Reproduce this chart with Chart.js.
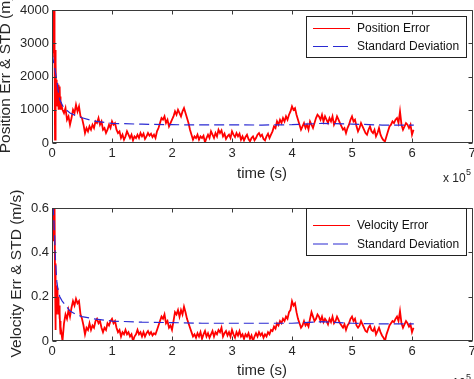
<!DOCTYPE html>
<html>
<head>
<meta charset="utf-8">
<script src="https://cdn.jsdelivr.net/npm/chart.js@4/dist/chart.umd.min.js"></script>
<style>
  html, body { margin: 0; padding: 0; background: #fff; overflow: hidden; }
  #wrap { position: relative; width: 474px; height: 379px; }
  canvas { position: absolute; left: 0; }
  #cA { top: 0; }
  #cB { top: 190px; }
</style>
</head>
<body>
<div id="wrap">
  <canvas id="cA" width="474" height="190"></canvas>
  <canvas id="cB" width="474" height="189"></canvas>
</div>
<script>
// ---------- DATA (time in units of 1e5 s) ----------
const errTime = [
  0,0.005,0.01,0.015,0.02,0.025,0.03,0.035,0.04,0.045,0.05,0.055,0.06,0.065,0.07,0.075,0.08,0.085,0.09,0.095,0.1,0.105,0.11,0.115,0.12,0.125,0.13,0.135,0.14,0.145,0.15,
  0.175,0.2,0.225,0.25,0.275,0.3,0.325,0.35,0.375,0.4,0.425,0.45,0.475,0.5,0.525,0.55,0.575,0.6,0.625,0.65,0.675,0.7,0.725,0.75,0.775,0.8,0.825,0.85,0.875,0.9,0.925,0.95,0.975,
  1,1.025,1.05,1.075,1.1,1.125,1.15,1.175,1.2,1.225,1.25,1.275,1.3,1.325,1.35,1.375,1.4,1.425,1.45,1.475,1.5,1.525,1.55,1.575,1.6,1.625,1.65,1.675,1.7,1.725,1.75,1.775,1.8,1.825,1.85,1.875,1.9,1.925,1.95,1.975,
  2,2.025,2.05,2.075,2.1,2.125,2.15,2.175,2.2,2.225,2.25,2.275,2.3,2.325,2.35,2.375,2.4,2.425,2.45,2.475,2.5,2.525,2.55,2.575,2.6,2.625,2.65,2.675,2.7,2.725,2.75,2.775,2.8,2.825,2.85,2.875,2.9,2.925,2.95,2.975,
  3,3.025,3.05,3.075,3.1,3.125,3.15,3.175,3.2,3.225,3.25,3.275,3.3,3.325,3.35,3.375,3.4,3.425,3.45,3.475,3.5,3.525,3.55,3.575,3.6,3.625,3.65,3.675,3.7,3.725,3.75,3.775,3.8,3.825,3.85,3.875,3.9,3.925,3.95,3.975,
  4,4.025,4.05,4.075,4.1,4.125,4.15,4.175,4.2,4.225,4.25,4.275,4.3,4.325,4.35,4.375,4.4,4.425,4.45,4.475,4.5,4.525,4.55,4.575,4.6,4.625,4.65,4.675,4.7,4.725,4.75,4.775,4.8,4.825,4.85,4.875,4.9,4.925,4.95,4.975,
  5,5.025,5.05,5.075,5.1,5.125,5.15,5.175,5.2,5.225,5.25,5.275,5.3,5.325,5.35,5.375,5.4,5.425,5.45,5.475,5.5,5.525,5.55,5.575,5.6,5.625,5.65,5.675,5.7,5.725,5.75,5.775,5.8,5.825,5.85,5.875,5.9,5.925,5.95,5.975,
  6,6.025
];

const positionError = [
  2600,3000,3800,2900,4000,3300,2700,4000,2900,3000,100,2800,2000,2400,1300,1900,1600,1200,1800,1100,1750,1300,1600,1000,1500,1200,1700,1100,1400,1000,1200,
  1000,900,1050,700,800,550,750,1000,900,1150,950,1100,800,750,550,300,450,350,500,400,550,450,650,600,750,550,650,400,450,300,400,550,450,
  650,550,600,400,300,350,150,250,100,200,350,250,150,250,80,200,150,250,150,300,200,280,120,200,300,220,280,180,250,150,350,450,600,750,700,800,600,700,500,600,
  700,800,950,850,1000,900,800,950,1050,900,750,600,400,250,100,200,150,250,100,200,150,220,20,150,250,150,350,250,150,300,200,400,300,380,200,280,120,200,250,150,
  350,250,180,300,200,280,100,200,80,180,250,120,50,150,200,80,150,250,300,200,250,120,80,200,280,150,250,350,500,450,650,550,700,600,750,650,800,700,850,950,
  1100,1000,1050,850,700,550,400,500,600,450,550,400,650,550,450,600,750,850,800,700,850,650,800,700,600,750,650,800,550,650,800,700,600,500,400,450,300,450,550,700,
  800,650,700,500,350,450,600,500,400,300,250,400,500,350,300,400,200,300,450,250,150,80,50,200,350,500,550,650,600,700,750,600,950,550,400,500,600,550,450,550,
  250,400
];

const velocityError = [
  0.55,0.7,0.5,0.7,0.55,0.7,0.45,0.7,0.5,0.62,0.3,0.05,0.35,0.15,0.25,0.12,0.22,0.17,0.24,0.15,0.2,0.14,0.19,0.12,0.16,0.1,0.13,0.06,0.09,0.03,0.05,
  0,0.08,0.12,0.1,0.14,0.11,0.15,0.18,0.16,0.19,0.17,0.18,0.12,0.1,0.07,0.03,0.06,0.05,0.08,0.05,0.07,0.06,0.09,0.1,0.08,0.09,0.06,0.04,0.06,0.05,0.08,0.07,0.09,
  0.1,0.08,0.09,0.06,0.04,0.05,0.02,0.04,0.03,0.05,0.03,0.04,0.02,0.03,0,0.02,0.03,0.05,0.03,0.04,0.02,0.04,0.02,0.035,0.045,0.03,0.04,0.025,0.035,0.03,0.05,0.07,0.09,0.11,0.1,0.12,0.08,0.09,0.06,0.07,
  0.05,0.09,0.13,0.12,0.14,0.11,0.14,0.12,0.155,0.13,0.1,0.08,0.06,0.04,0.02,0.03,0.015,0.035,0.02,0.04,0.01,0.03,0.045,0.02,0.035,0.015,0.03,0.045,0.02,0.04,0.03,0.05,0.04,0.06,0.02,0.035,0.045,0.025,0.04,0.02,
  0.05,0.03,0.015,0.04,0.025,0.045,0.02,0.03,0.01,0.03,0.02,0.035,0.01,0.025,0,0.02,0.035,0.02,0.04,0.025,0.035,0.015,0.03,0.02,0.04,0.03,0.05,0.045,0.065,0.055,0.08,0.07,0.09,0.08,0.1,0.09,0.11,0.1,0.13,0.14,
  0.18,0.16,0.17,0.13,0.1,0.08,0.06,0.07,0.09,0.07,0.08,0.065,0.1,0.13,0.11,0.09,0.1,0.12,0.11,0.09,0.11,0.085,0.1,0.09,0.075,0.1,0.085,0.11,0.08,0.09,0.11,0.095,0.08,0.07,0.06,0.075,0.05,0.07,0.08,0.1,
  0.11,0.09,0.1,0.07,0.06,0.07,0.09,0.075,0.06,0.045,0.04,0.06,0.07,0.05,0.045,0.06,0.03,0.045,0.06,0.04,0.025,0.015,0,0.03,0.05,0.07,0.08,0.09,0.085,0.1,0.11,0.09,0.135,0.08,0.06,0.075,0.09,0.08,0.065,0.075,
  0.04,0.06
];

const stdTime = [0,0.02,0.04,0.06,0.08,0.1,0.13,0.17,0.2,0.3,0.4,0.5,0.7,1.0,1.5,2.0,2.5,3.0,3.5,4.0,4.5,5.0,5.5,6.0,6.03];
const positionStd = [2700,2500,2300,2100,1900,1600,1300,1150,1050,900,820,760,660,590,565,550,545,545,540,550,590,570,540,540,540];
const velocityStd = [0.68,0.6,0.5,0.35,0.27,0.23,0.2,0.18,0.17,0.135,0.12,0.11,0.1,0.09,0.085,0.083,0.08,0.08,0.08,0.08,0.087,0.08,0.077,0.077,0.077];

const xTickLabels = ['0','1','2','3','4','5','6','7'];
const posTickLabels = ['0','1000','2000','3000','4000'];
const velTickLabels = ['0','0.2','0.4','0.6'];

const seriesNamesTop = ['Position Error', 'Standard Deviation'];
const seriesNamesBottom = ['Velocity Error', 'Standard Deviation'];
// ---------------------------------------------------

Chart.defaults.font.family = '"Liberation Sans", Arial, Helvetica, sans-serif';
Chart.defaults.color = '#262626';

const RED = '#ff0000';
const BLUE = '#2a2ad2';
const AXIS = '#3a3a3a';

function pairs(xs, ys) { return xs.map((x, i) => ({ x: x, y: ys[i] })); }

const matlabAxes = {
  id: 'matlabAxes',
  afterDatasetsDraw(chart, args, o) {
    const { ctx, chartArea: a } = chart;
    const xs = chart.scales.x, ys = chart.scales.y;
    ctx.save();
    ctx.strokeStyle = AXIS;
    ctx.lineWidth = 1;
    const L = Math.round(a.left) + 0.5, R = Math.round(a.right) + 0.5;
    const T = Math.round(a.top) + 0.5, B = Math.round(a.bottom) - 0.5;
    ctx.beginPath();
    ctx.rect(L, T, R - L, B - T);
    xs.ticks.forEach(t => {
      const px = Math.round(xs.getPixelForValue(t.value)) + 0.5;
      ctx.moveTo(px, B); ctx.lineTo(px, B - 4);
      ctx.moveTo(px, T); ctx.lineTo(px, T + 4);
    });
    ys.ticks.forEach(t => {
      const py = Math.round(ys.getPixelForValue(t.value)) + 0.5;
      ctx.moveTo(L, py); ctx.lineTo(L + 4, py);
      ctx.moveTo(R, py); ctx.lineTo(R - 4, py);
    });
    ctx.stroke();

    // legend
    const lg = o.legend;
    ctx.fillStyle = '#fff';
    ctx.fillRect(lg.x + 0.5, lg.y + 0.5, lg.w, lg.h);
    ctx.strokeStyle = '#222';
    ctx.strokeRect(lg.x + 0.5, lg.y + 0.5, lg.w, lg.h);
    ctx.font = '12px "Liberation Sans", Arial, sans-serif';
    ctx.textBaseline = 'middle';
    ctx.textAlign = 'left';
    const order = [1, 0]; // red row first, blue row second
    order.forEach((di, row) => {
      const ds = chart.data.datasets[di];
      const y = lg.rowY[row];
      ctx.save();
      ctx.strokeStyle = ds.borderColor;
      ctx.lineWidth = 1.2;
      ctx.setLineDash(ds.borderDash ? [15, 5] : []);
      ctx.beginPath();
      ctx.moveTo(lg.x + 7, y); ctx.lineTo(lg.x + 44, y);
      ctx.stroke();
      ctx.restore();
      ctx.fillStyle = '#111';
      ctx.fillText(ds.label, lg.x + 51, y + 0.5);
    });

    // y title (rotated)
    ctx.save();
    ctx.fillStyle = '#262626';
    ctx.font = o.yTitle.font;
    ctx.translate(o.yTitle.x, (a.top + a.bottom) / 2 + o.yTitle.dy);
    ctx.rotate(-Math.PI / 2);
    ctx.textAlign = 'center';
    ctx.textBaseline = 'middle';
    ctx.fillText(o.yTitle.text, 0, 0);
    ctx.restore();

    // exponent label
    ctx.fillStyle = '#262626';
    ctx.textBaseline = 'alphabetic';
    ctx.font = '12px "Liberation Sans", Arial, sans-serif';
    ctx.fillText('x 10', o.expo.x, o.expo.y);
    ctx.font = '9px "Liberation Sans", Arial, sans-serif';
    ctx.fillText('5', o.expo.x + 23, o.expo.y - 7);
    ctx.restore();
  }
};

function makeChart(id, p) {
  return new Chart(document.getElementById(id), {
    type: 'line',
    data: {
      datasets: [
        {
          label: p.names[1],
          data: pairs(stdTime, p.std),
          borderColor: BLUE, borderWidth: 1.2, borderDash: [10, 5],
          pointRadius: 0, tension: 0, fill: false, order: 1
        },
        {
          label: p.names[0],
          data: pairs(errTime, p.err),
          borderColor: RED, borderWidth: 1.8,
          pointRadius: 0, tension: 0, fill: false, order: 2
        }
      ]
    },
    options: {
      responsive: false,
      animation: false,
      layout: { padding: { top: p.padTop, right: 2, left: 0, bottom: 0 } },
      plugins: {
        legend: { display: false },
        tooltip: { enabled: false },
        matlabAxes: { legend: p.legend, yTitle: p.yTitle, expo: p.expo }
      },
      scales: {
        x: {
          type: 'linear', min: 0, max: 7,
          grid: { display: false, drawTicks: false },
          border: { display: false },
          ticks: {
            stepSize: 1, autoSkip: false, maxRotation: 0, padding: p.xTickPad,
            font: { size: 13 }, color: '#262626',
            callback: (v) => xTickLabels[Math.round(v)]
          },
          title: {
            display: true, text: 'time (s)', color: '#262626',
            font: { size: 15, lineHeight: 1 }, padding: { top: 0, bottom: p.xTitlePad }
          },
          afterFit: (s) => { s.height = p.xH; s.paddingLeft = 0; s.paddingRight = 0; }
        },
        y: {
          type: 'linear', min: 0, max: p.yMax,
          grid: { display: false, drawTicks: false },
          border: { display: false },
          ticks: {
            stepSize: p.yStep, autoSkip: false, padding: 3,
            font: { size: 13 }, color: '#262626',
            callback: (v) => p.yLabels[Math.round(v / p.yStep)]
          },
          afterFit: (s) => { s.width = 52; s.paddingTop = 0; s.paddingBottom = 0; }
        }
      }
    },
    plugins: [matlabAxes]
  });
}

makeChart('cA', {
  names: seriesNamesTop, err: positionError, std: positionStd,
  yMax: 4000, yStep: 1000, yLabels: posTickLabels,
  padTop: 10, xH: 47, xTickPad: 3, xTitlePad: 9,
  legend: { x: 306, y: 16, w: 160, h: 41, rowY: [28.5, 46.5] },
  yTitle: { text: 'Position Err & STD (m)', x: 5.5, dy: -2, font: '15.5px "Liberation Sans", Arial, sans-serif' },
  expo: { x: 443, y: 182 }
});

makeChart('cB', {
  names: seriesNamesBottom, err: velocityError, std: velocityStd,
  yMax: 0.6, yStep: 0.2, yLabels: velTickLabels,
  padTop: 18, xH: 38, xTickPad: 3, xTitlePad: 1,
  legend: { x: 306, y: 18, w: 160, h: 47, rowY: [35.5, 54] },
  yTitle: { text: 'Velocity Err & STD (m/s)', x: 17, dy: -1, font: '15.5px "Liberation Sans", Arial, sans-serif' },
  expo: { x: 443, y: 197 }
});
</script>
</body>
</html>
